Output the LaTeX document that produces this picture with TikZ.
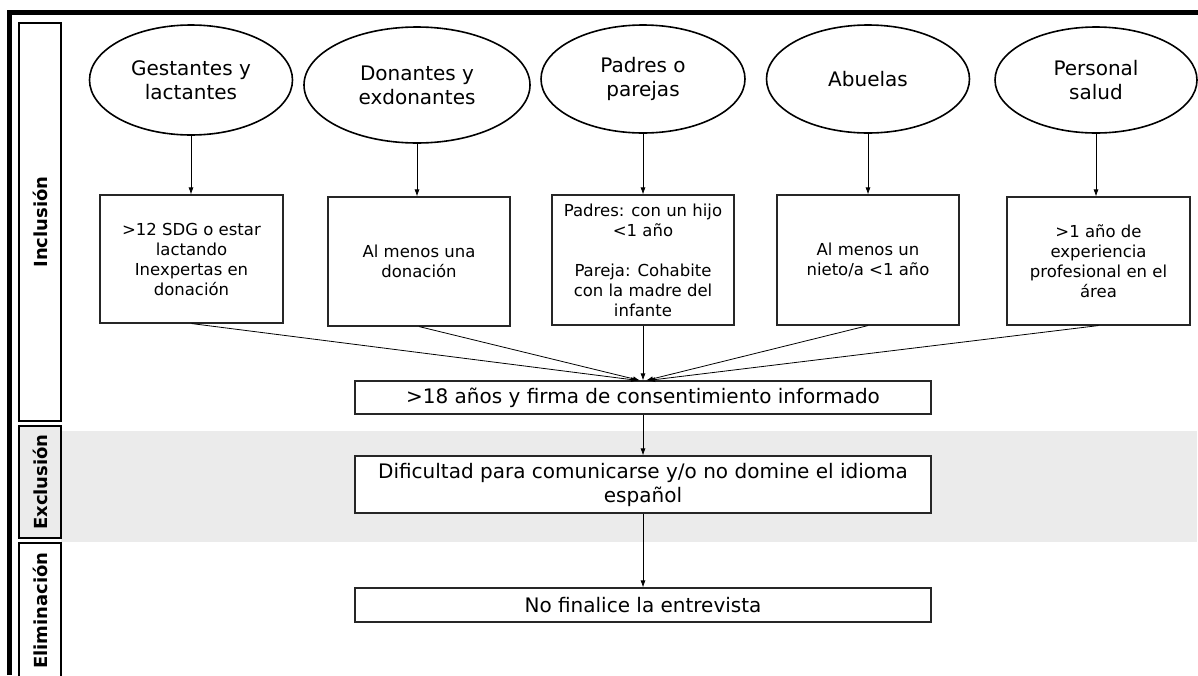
\documentclass[tikz,border=0pt]{standalone}
\usepackage{fontspec}
\setmainfont{DejaVu Sans}
\usetikzlibrary{positioning,shapes.geometric,arrows.meta}
\definecolor{banda}{HTML}{EBEBEB}
\tikzset{
	grupo/.style={ellipse, draw, line width=1.6pt, fill=white, align=center, inner sep=0pt, font=\fontsize{20}{24}\selectfont},
	criterio/.style={rectangle, draw=black!85, line width=1.1pt, fill=white, align=center, inner sep=0pt, font=\fontsize{16.5}{20}\selectfont},
	filtro/.style={rectangle, draw=black!85, line width=1.1pt, fill=white, minimum width=576pt, align=center, inner sep=0pt, font=\fontsize{20}{24}\selectfont},
	etapa/.style={rectangle, draw, line width=1.8pt, minimum height=42pt, rotate=90, inner sep=0pt, font=\bfseries\fontsize{18}{22}\selectfont},
	flecha/.style={-{Latex[length=7pt,width=5pt]}, line width=0.8pt},
}
\begin{document}
\begin{tikzpicture}[x=1pt, y=-1pt]
		\useasboundingbox (0,0) rectangle (1198,675);
		\fill[banda] (61,431) rectangle (1197,542);
		\draw[line width=5pt] (9.5,675) -- (9.5,12) -- (1198,12);
		\node[etapa, minimum width=398pt] (inclusion) at (40,222) {Inclusión};
		\node[etapa, minimum width=112pt, fill=banda] (exclusion) at (40,482) {Exclusión};
		\node[etapa, minimum width=135pt] (eliminacion) at (40,610.5) {Eliminación};
		\node[grupo, minimum width=203pt, minimum height=110pt] (g1) at (191,80) {Gestantes y\\lactantes};
		\node[grupo, minimum width=226pt, minimum height=116pt] (g2) at (417,85) {Donantes y\\exdonantes};
		\node[grupo, minimum width=204pt, minimum height=108pt] (g3) at (643,79) {Padres o\\parejas};
		\node[grupo, minimum width=203pt, minimum height=108pt] (g4) at (868,79) {Abuelas};
		\node[grupo, minimum width=202pt, minimum height=106pt] (g5) at (1096,80) {Personal\\salud};
		\node[criterio, minimum width=183pt, minimum height=128pt] (c1) at (191.5,259) {>12 SDG o estar\\lactando\\Inexpertas en\\donación};
		\node[criterio, minimum width=182pt, minimum height=129pt] (c2) at (419,261.5) {Al menos una\\donación};
		\node[criterio, minimum width=182pt, minimum height=130pt] (c3) at (643,260) {Padres: con un hijo\\<1 año\\[20pt]Pareja: Cohabite\\con la madre del\\infante};
		\node[criterio, minimum width=182pt, minimum height=130pt] (c4) at (868,260) {Al menos un\\nieto/a <1 año};
		\node[criterio, minimum width=183pt, minimum height=128pt] (c5) at (1098.5,261) {>1 año de\\experiencia\\profesional en el\\área};
		\node[filtro, minimum height=33pt] (consentimiento) at (643,397.5) {>18 años y firma de consentimiento informado};
		\node[filtro, minimum height=57pt] (idioma) at (643,484.5) {Dificultad para comunicarse y/o no domine el idioma\\español};
		\node[filtro, minimum height=34pt] (entrevista) at (643,605) {No finalice la entrevista};
		\foreach \i in {1,...,5}
			\draw[flecha] (g\i.south) -- (g\i.south |- c\i.north);
		\draw[flecha] (c1.south) -- ([xshift=-5pt]consentimiento.north);
		\draw[flecha] (c2.south) -- ([xshift=-3pt]consentimiento.north);
		\draw[flecha] (c3.south) -- (consentimiento.north);
		\draw[flecha] (c4.south) -- ([xshift=3pt]consentimiento.north);
		\draw[flecha] (c5.south) -- ([xshift=5pt]consentimiento.north);
		\draw[flecha] (consentimiento) -- (idioma);
		\draw[flecha] (idioma) -- (entrevista);
	\end{tikzpicture}
\end{document}
